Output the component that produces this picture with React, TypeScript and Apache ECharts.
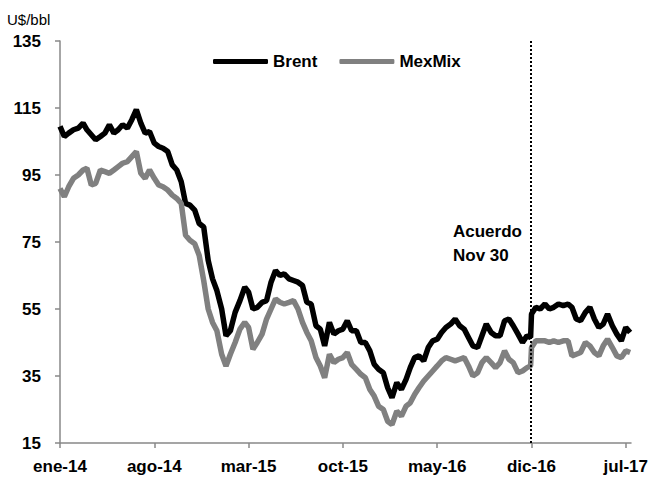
import React, { useEffect, useRef } from "react";
import * as echarts from "echarts";

// Sample dates: the 1st, 11th and 21st of each month (plus 29-Nov-2016, the day before the agreement)
const SLOT_DAYS = [1, 11, 21];
const EXTRA_DATE = "2016-11-29";
const LAST_DATE = "2017-07-11";
const AGREEMENT_DATE = "2016-11-30";
const AXIS_END_DATE = "2017-07-13";

const xTickLabels = ["ene-14", "ago-14", "mar-15", "oct-15", "may-16", "dic-16", "jul-17"];
const xTickMonths = [0, 7, 14, 21, 28, 35, 42];
const yTicks = [15, 35, 55, 75, 95, 115, 135];

// US$/bbl
const brent = [
  // 2014
  109.5, 106.5, 107.5, 108.5, 109, 110.5, 108.5, 107, 105.5, 106.5, 107.5, 110,
  107.5, 108.5, 110, 109, 111.5, 114.5, 110.5, 107.5, 108, 104.5, 103.5, 103,
  102, 98, 96.5, 93, 86.5, 86, 84.5, 80.5, 79.5, 69.5, 64, 60.5,
  // 2015
  55, 47, 48.5, 54, 57.5, 61.5, 60, 55, 55.5, 57, 57.5, 63,
  66.5, 65, 65.5, 64, 63.5, 63, 62, 57, 56.5, 50, 49, 44,
  51, 47.5, 48.5, 49, 51.5, 48.5, 48.5, 45, 45, 42.5, 38.5, 37,
  // 2016
  36, 31.5, 28.5, 33, 31, 34, 37.5, 40.5, 41, 39.5, 43.5, 45.5,
  46, 48, 49.5, 50.5, 52, 50, 49, 46.5, 44, 43.5, 47, 50.5,
  48, 47, 47, 51.5, 52, 50, 47.5, 45, 47, 46.5, 53.5, 55.5, 55,
  // 2017
  56.5, 55, 55.5, 56.5, 56, 56.5, 55.5, 52, 51.5, 54, 55.5, 52,
  49.5, 50.5, 53.5, 50, 47.5, 45.5, 49.5, 48,
];

const mexMix = [
  // 2014
  91, 88.5, 91.5, 94, 95, 96.5, 97, 92, 92.5, 96.5, 96, 95.5,
  96.5, 97.5, 98.5, 99, 100.5, 102, 95.5, 94, 96.5, 94, 92, 91.5,
  90.5, 89, 88, 86.5, 77, 75.5, 74.5, 71, 63.5, 55, 51, 48.5,
  // 2015
  41.5, 38, 41.5, 45, 49, 51, 49.5, 43, 45, 47.5, 52, 55,
  58, 57, 56.5, 57, 57.5, 55, 51, 48, 45.5, 40.5, 38, 34.5,
  41.5, 39, 40, 40.5, 42, 38.5, 37, 35.5, 34.5, 31, 29, 26,
  // 2016
  25, 21.5, 20.5, 24.5, 23, 26, 27, 29.5, 31.5, 33.5, 35, 36.5,
  38, 39.5, 40.5, 40, 39.5, 40, 40.5, 38, 35, 36, 39, 40.5,
  39, 37.5, 39, 42.5, 40, 39, 36, 36.5, 37.5, 38, 43.5, 45.5, 45.5,
  // 2017
  45.5, 45, 45.5, 45, 45.5, 45.5, 41, 41.5, 42, 45, 44, 42,
  41, 44, 46, 43.5, 41, 40.5, 42.5, 42,
];

const pad = (n: number) => (n < 10 ? "0" + n : "" + n);

function buildDates(): string[] {
  const out: string[] = [];
  for (let y = 2014; y <= 2017; y++) {
    for (let m = 1; m <= 12; m++) {
      for (const d of SLOT_DAYS) {
        const s = `${y}-${pad(m)}-${pad(d)}`;
        if (s > LAST_DATE) continue;
        out.push(s);
        if (y === 2016 && m === 11 && d === 21) out.push(EXTRA_DATE);
      }
    }
  }
  return out;
}

// months elapsed since 1-Jan-2014
function monthIndex(s: string): number {
  const [y, m, d] = s.split("-").map(Number);
  const days = new Date(y, m, 0).getDate();
  return (y - 2014) * 12 + (m - 1) + (d - 1) / days;
}

const FONT = "'Liberation Sans', Arial, sans-serif";

export default function App() {
  const ref = useRef<HTMLDivElement>(null);
  useEffect(() => {
    if (!ref.current) return;
    const chart = echarts.init(ref.current, undefined, { renderer: "svg" });
    const dates = buildDates();
    const brentData = dates.map((d, i) => [monthIndex(d), brent[i]]);
    const mexData = dates.map((d, i) => [monthIndex(d), mexMix[i]]);
    const axisColor = "#888888";

    chart.setOption({
      animation: false,
      backgroundColor: "#ffffff",
      textStyle: { fontFamily: FONT },
      grid: { left: 60, right: 18, top: 41, bottom: 41, containLabel: false },
      legend: {
        left: 213,
        top: 53,
        padding: 0,
        icon: "roundRect",
        itemWidth: 55,
        itemHeight: 5,
        itemGap: 22,
        textStyle: { fontFamily: FONT, fontWeight: "bold", fontSize: 17, color: "#000" },
        data: ["Brent", "MexMix"],
      },
      xAxis: {
        type: "value",
        min: 0,
        max: monthIndex(AXIS_END_DATE),
        splitLine: { show: false },
        axisLine: { show: true, lineStyle: { color: axisColor, width: 1.5 } },
        axisTick: {
          show: true,
          length: 5,
          customValues: xTickMonths,
          lineStyle: { color: axisColor, width: 1.5 },
        },
        axisLabel: {
          customValues: xTickMonths,
          formatter: (v: number) => {
            const i = xTickMonths.indexOf(Math.round(v));
            return i >= 0 ? xTickLabels[i] : "";
          },
          margin: 15,
          color: "#000",
          fontFamily: FONT,
          fontWeight: "bold",
          fontSize: 17,
        },
      },
      yAxis: {
        type: "value",
        min: 15,
        max: 135,
        splitLine: { show: false },
        axisLine: { show: true, lineStyle: { color: axisColor, width: 1.5 } },
        axisTick: {
          show: true,
          length: 5,
          customValues: yTicks,
          lineStyle: { color: axisColor, width: 1.5 },
        },
        axisLabel: {
          customValues: yTicks,
          margin: 19,
          color: "#000",
          fontFamily: FONT,
          fontWeight: "bold",
          fontSize: 17,
        },
      },
      graphic: [
        {
          type: "text",
          left: 7,
          top: 12,
          style: { text: "U$/bbl", fontFamily: FONT, fontSize: 15, fill: "#000" },
        },
        {
          type: "text",
          left: 453,
          top: 219,
          style: {
            text: "Acuerdo\nNov 30",
            fontFamily: FONT,
            fontSize: 17,
            fontWeight: "bold",
            lineHeight: 24,
            fill: "#000",
          },
        },
      ],
      series: [
        {
          name: "Brent",
          type: "line",
          data: brentData,
          showSymbol: false,
          symbol: "none",
          color: "#000000",
          lineStyle: { color: "#000000", width: 5.5 },
          markLine: {
            silent: true,
            symbol: "none",
            label: { show: false },
            lineStyle: { color: "#000000", type: [2, 2], width: 2 },
            data: [{ xAxis: monthIndex(AGREEMENT_DATE) }],
          },
        },
        {
          name: "MexMix",
          type: "line",
          data: mexData,
          showSymbol: false,
          symbol: "none",
          color: "#808080",
          lineStyle: { color: "#808080", width: 5.5 },
        },
      ],
    });
    return () => chart.dispose();
  }, []);
  return <div ref={ref} style={{ width: 651, height: 484, position: "absolute", left: 0, top: 0 }} />;
}
